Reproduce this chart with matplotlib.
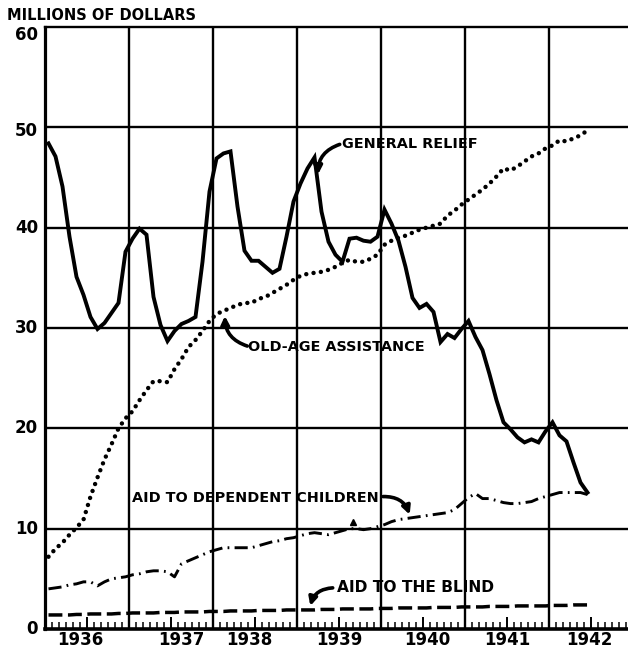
import numpy as np
import matplotlib
matplotlib.use("Agg")
import matplotlib.pyplot as plt
from matplotlib import transforms

# ---------------- data (monthly, Jan 1936 - Jun 1942) ----------------
years = ["1936", "1937", "1938", "1939", "1940", "1941", "1942"]

general_relief = [
    48.4, 47.1, 44.1, 39.1, 35.1, 33.3, 31.1, 29.9, 30.5, 31.5,
    32.5, 37.6, 38.9, 39.9, 39.3, 33.1, 30.3, 28.7, 29.7, 30.4,
    30.7, 31.1, 36.6, 43.6, 46.9, 47.4, 47.6, 42.1, 37.7, 36.7,
    36.7, 36.1, 35.5, 35.9, 39.1, 42.6, 44.4, 45.9, 47.0, 41.6,
    38.6, 37.3, 36.6, 38.9, 39.0, 38.7, 38.6, 39.1, 41.8, 40.4,
    38.7, 36.1, 33.0, 32.0, 32.4, 31.6, 28.6, 29.4, 29.0, 29.9,
    30.7, 29.1, 27.8, 25.4, 22.8, 20.6, 19.9, 19.1, 18.6, 18.9,
    18.6, 19.7, 20.6, 19.3, 18.7, 16.6, 14.6, 13.6,
]

old_age_assistance = [
    7.2, 8.0, 8.6, 9.4, 10.1, 10.9, 13.2, 15.1, 16.9, 18.4,
    20.0, 21.0, 21.7, 22.8, 23.8, 24.7, 24.7, 24.6, 25.9, 26.9,
    28.1, 28.8, 29.7, 30.7, 31.4, 31.7, 32.0, 32.3, 32.5, 32.5,
    32.9, 33.1, 33.5, 33.9, 34.3, 34.8, 35.2, 35.4, 35.5, 35.6,
    35.8, 36.1, 36.5, 36.8, 36.6, 36.6, 36.9, 37.3, 38.3, 38.7,
    39.0, 39.2, 39.5, 39.8, 40.0, 40.2, 40.4, 41.2, 41.7, 42.3,
    42.8, 43.3, 43.8, 44.4, 45.1, 45.9, 45.7, 46.1, 46.6, 47.1,
    47.4, 47.9, 48.2, 48.7, 48.6, 48.9, 49.2, 49.7,
]

aid_dependent_children = [
    4.0, 4.1, 4.2, 4.4, 4.5, 4.7, 4.7, 4.3, 4.7, 5.0,
    5.1, 5.2, 5.4, 5.5, 5.7, 5.8, 5.8, 5.7, 5.2, 6.5,
    6.8, 7.1, 7.4, 7.7, 7.9, 8.1, 8.1, 8.1, 8.1, 8.1,
    8.3, 8.5, 8.7, 8.8, 9.0, 9.1, 9.3, 9.5, 9.6, 9.5,
    9.4, 9.6, 9.8, 10.0, 10.0, 9.9, 10.0, 10.2, 10.4, 10.7,
    10.9, 11.0, 11.1, 11.2, 11.3, 11.4, 11.5, 11.6, 11.9, 12.5,
    13.1, 13.5, 13.0, 13.0, 12.8, 12.6, 12.5, 12.5, 12.6, 12.7,
    13.0, 13.2, 13.4, 13.6, 13.6, 13.6, 13.6, 13.4,
]

aid_blind = [
    1.4, 1.4, 1.4, 1.4, 1.45, 1.45, 1.5, 1.5, 1.5, 1.5,
    1.55, 1.55, 1.6, 1.6, 1.6, 1.6, 1.65, 1.65, 1.65, 1.7,
    1.7, 1.7, 1.7, 1.75, 1.75, 1.75, 1.8, 1.8, 1.8, 1.8,
    1.85, 1.85, 1.85, 1.85, 1.9, 1.9, 1.9, 1.9, 1.9, 1.95,
    1.95, 1.95, 2.0, 2.0, 2.0, 2.0, 2.0, 2.05, 2.05, 2.05,
    2.1, 2.1, 2.1, 2.1, 2.1, 2.15, 2.15, 2.15, 2.15, 2.2,
    2.2, 2.2, 2.2, 2.25, 2.25, 2.25, 2.25, 2.3, 2.3, 2.3,
    2.3, 2.3, 2.35, 2.35, 2.35, 2.4, 2.4, 2.4,
]

y_labels = ["0", "10", "20", "30", "40", "50", "60"]
y_values = [0, 10, 20, 30, 40, 50, 60]

months = np.arange(len(general_relief))

# ---------------- layout ----------------
W, H = 628, 654
fig = plt.figure(figsize=(W / 100, H / 100), dpi=100)
fig.patch.set_facecolor("white")
ax = fig.add_axes([45 / W, 25 / H, 583 / W, 602 / H])
ax.set_xlim(-0.5, -0.5 + 583 / 7)
ax.set_ylim(0, 60)

FONT = "DejaVu Sans"

# grid
for x in np.arange(11.5, 83, 12):
    ax.axvline(x, color="black", lw=1.7, zorder=1)
for y in range(10, 60, 10):
    ax.axhline(y, color="black", lw=1.7, zorder=1)

# spines
ax.spines["right"].set_visible(False)
ax.spines["top"].set_linewidth(1.7)
ax.spines["left"].set_linewidth(2.3)
ax.spines["bottom"].set_linewidth(2.6)
for s in ax.spines.values():
    s.set_color("black")

# series
ax.plot(months, general_relief, color="black", lw=2.8,
        solid_joinstyle="miter", zorder=4)
ax.plot(months, old_age_assistance, color="black", lw=3.2,
        linestyle=(0, (0.01, 1.65)), dash_capstyle="round", zorder=3)
ax.plot(months, aid_dependent_children, color="black", lw=2.1,
        linestyle=(0, (4.5, 1.8, 0.6, 1.8)), zorder=3)
ax.plot(months, aid_blind, color="black", lw=2.5,
        linestyle=(0, (4.0, 1.6)), zorder=3)

# small marker on dependent children series
ax.plot([43.5], [10.7], marker="^", color="black", markersize=5, zorder=5)

# ticks
ax.set_xticks(np.arange(5.5, 83, 6))
ax.set_xticks(np.arange(-0.5, 83, 1), minor=True)
ax.tick_params(axis="x", which="major", direction="in", length=9, width=1.4,
               labelbottom=False, color="black")
ax.tick_params(axis="x", which="minor", direction="in", length=5, width=1.1,
               color="black")
ax.set_yticks(y_values)
ax.tick_params(axis="y", length=0, labelleft=False)

# y labels (top ones sit a little below their gridline, as in the original)
y_offsets_px = [0, 0, 0, 0, 0, -4, -8]
for lbl, yv, off in zip(y_labels, y_values, y_offsets_px):
    trn = ax.get_yaxis_transform() + transforms.ScaledTranslation(
        -7 / 100, off / 100, fig.dpi_scale_trans)
    ax.text(0, yv, lbl, transform=trn, ha="right", va="center",
            fontsize=12, fontweight="bold", family=FONT, clip_on=False)

# year labels
year_pos = [4.5, 19.0, 28.7, 41.5, 54.1, 65.6, 77.3]
tr = transforms.blended_transform_factory(ax.transData, fig.transFigure)
for lbl, xp in zip(years, year_pos):
    ax.text(xp, 1 - 640 / H, lbl, transform=tr, ha="center", va="center",
            fontsize=12, fontweight="bold", family=FONT, clip_on=False)

# title
fig.text(7 / W, 1 - 15 / H, "MILLIONS OF DOLLARS", ha="left", va="center",
         fontsize=10.5, fontweight="bold", family=FONT)

# annotations
arrow_kw = dict(arrowstyle="-|>", color="black", lw=2.6, mutation_scale=12,
                shrinkA=0, shrinkB=0)
txt_kw = dict(fontsize=10.4, fontweight="bold", family=FONT, va="center",
              ha="left")

ax.text(41.9, 48.35, "GENERAL RELIEF", **txt_kw)
ax.annotate("", xy=(38.5, 45.3), xytext=(41.6, 48.3),
            arrowprops=dict(connectionstyle="arc3,rad=0.35", **arrow_kw))

ax.text(28.5, 28.1, "OLD-AGE ASSISTANCE", **txt_kw)
ax.annotate("", xy=(25.2, 31.2), xytext=(28.4, 28.2),
            arrowprops=dict(connectionstyle="arc3,rad=-0.35", **arrow_kw))

ax.text(12.0, 13.06, "AID TO DEPENDENT CHILDREN", **txt_kw)
ax.annotate("", xy=(51.6, 11.4), xytext=(47.8, 13.2),
            arrowprops=dict(connectionstyle="arc3,rad=-0.35", **arrow_kw))

ax.text(41.2, 4.1, "AID TO THE BLIND", fontsize=11.2, fontweight="bold",
        family=FONT, va="center", ha="left")
ax.annotate("", xy=(37.4, 2.3), xytext=(40.6, 4.1),
            arrowprops=dict(connectionstyle="arc3,rad=0.35", **arrow_kw))

fig.savefig("out.png", dpi=100, facecolor="white")
